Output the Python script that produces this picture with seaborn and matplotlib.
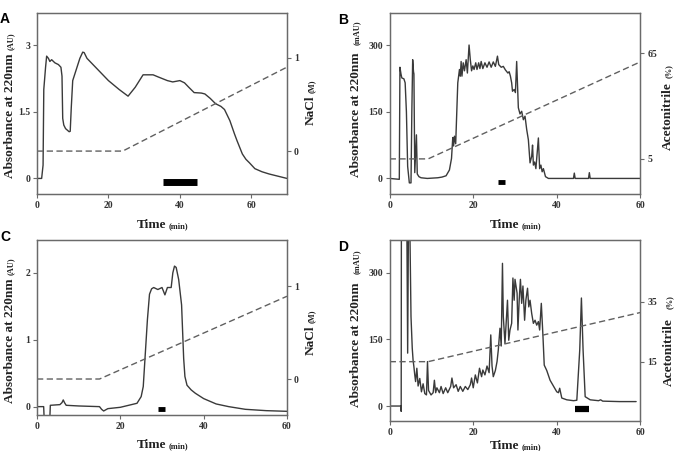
import matplotlib
matplotlib.use("Agg")
import matplotlib.pyplot as plt
import seaborn as sns
import pandas as pd

# ---------------- data ----------------
panel_letters = ["A", "B", "C", "D"]

A_time = [0, 1.3, 1.7, 1.9, 2.4, 2.7, 3.2, 3.6, 4.1, 5.0, 6.0, 6.7, 7.0, 7.2, 7.5, 8.0, 9.0, 9.3,
          9.6, 10.0, 10.8, 12.0, 12.8, 13.2, 14.0, 17.0, 20.0, 23.0, 25.5, 27.5, 29.7, 32.5, 34.0,
          36.5, 38.0, 40.0, 41.3, 42.5, 44.0, 46.0, 47.0, 48.5, 50.0, 51.5, 52.5, 54.0, 55.3, 56.0,
          57.5, 58.5, 59.5, 61.0, 63.0, 65.0, 67.5, 70.0]
A_abs = [0, 0, 0.3, 2.0, 2.5, 2.75, 2.7, 2.63, 2.67, 2.6, 2.56, 2.5, 2.3, 1.35, 1.2, 1.12, 1.05, 1.06,
         1.6, 2.2, 2.4, 2.7, 2.84, 2.83, 2.7, 2.45, 2.2, 2.0, 1.85, 2.05, 2.33, 2.33, 2.28,
         2.2, 2.17, 2.2, 2.15, 2.05, 1.93, 1.92, 1.9, 1.8, 1.68, 1.62, 1.55, 1.3, 1.0, 0.85,
         0.55, 0.43, 0.35, 0.22, 0.15, 0.1, 0.05, 0.0]
A_grad_time = [0, 24, 70]
A_grad = [0, 0, 0.9]
A_bar_time = [35.2, 44.7]
A_bar_y = [-0.07, -0.07]

B_time = [0, 2.3, 2.45, 2.7, 2.9, 3.4, 3.7, 4.0, 4.3, 4.7, 5.1, 5.3, 5.5, 5.7, 5.8, 6.0, 6.4, 6.6,
          7.0, 7.5, 9.0, 11.5, 12.5, 13.5, 14.3, 14.8, 15.1, 15.3, 15.5, 15.8, 16.3, 16.7, 16.9,
          17.1, 17.3, 17.6, 17.9, 18.3, 18.6, 19.0, 19.3, 19.6, 19.9, 20.2, 20.6, 20.9, 21.3,
          21.6, 21.9, 22.3, 22.8, 23.3, 23.8, 24.3, 24.8, 25.3, 25.8, 26.1, 26.7, 27.2, 27.7,
          28.3, 28.6, 28.9, 29.2, 29.4, 29.8, 30.1, 30.4, 30.8, 31.2, 31.6, 32.0, 32.4, 32.8,
          33.2, 33.6, 34.0, 34.2, 34.4, 34.7, 35.0, 35.6, 35.9, 36.2, 36.5, 36.8, 37.3, 38.0,
          44.0, 44.2, 44.4, 47.6, 47.8, 48.0, 60.0]
B_abs = [0, -2, 250, 235, 226, 224, 215, 150, 27, -10, -10, 150, 267, 240, 235, 13, 98, 10,
         4, 1.5, 0, 1.5, 3, 6, 19, 45, 92, 73, 95, 78, 215, 245, 230,
         263, 230, 260, 242, 267, 237, 300, 267, 242, 253, 245, 260, 245, 260,
         247, 263, 247, 260, 250, 262, 250, 262, 252, 275, 256, 250, 252, 244,
         237, 240, 230, 215, 196, 200, 193, 263, 159, 145, 151, 132, 140, 110,
         87, 35, 50, 75, 30, 37, 22, 91, 22, 30, 15, 22, 4, 0,
         0, 12, 0, 0, 13, 0, 0]
B_grad_time = [0, 9.2, 60]
B_grad = [5, 5, 60]
B_bar_time = [26.0, 27.6]
B_bar_y = [-7, -7]

C_time = [0, 1.6, 1.8, 3.0, 3.2, 5.5, 6.0, 6.3, 6.6, 7.0, 10.0, 15.0, 15.5, 16.0, 17.0, 20.0, 22.0,
          24.0, 25.0, 25.5, 26.0, 26.5, 27.0, 27.5, 28.0, 29.0, 30.0, 30.7, 31.3, 32.2, 32.6,
          33.0, 33.4, 34.0, 34.7, 35.2, 35.5, 36.0, 37.0, 38.0, 40.0, 43.0, 46.0, 50.0, 55.0, 60.0]
C_abs = [0, 0, -0.3, -0.3, 0.02, 0.03, 0.06, 0.1, 0.06, 0.02, 0.01, 0.0, -0.04, -0.065, -0.03, -0.01, 0.02,
         0.05, 0.15, 0.3, 0.8, 1.3, 1.68, 1.76, 1.78, 1.75, 1.78, 1.67, 1.78, 1.78, 2.0,
         2.1, 2.08, 1.9, 1.52, 0.72, 0.45, 0.32, 0.25, 0.2, 0.12, 0.04, 0.0, -0.04, -0.06, -0.07]
C_grad_time = [0, 15, 60]
C_grad = [0, 0, 0.89]
C_bar_time = [29.1, 30.7]
C_bar_y = [-0.03, -0.03]

D_time = [0, 2.7, 2.75, 2.8, 3.0, 4.1, 4.3, 4.5, 4.8, 5.1, 5.4, 5.6, 5.8, 6.0, 6.2, 6.5, 6.8, 7.2,
          7.6, 8.0, 8.4, 8.8, 9.05, 9.3, 9.9, 10.4, 10.7, 11.0, 11.3, 11.9, 12.3, 12.8, 13.4,
          13.9, 14.6, 14.9, 15.3, 15.9, 16.4, 16.9, 17.5, 18.1, 18.7, 19.3, 19.6, 20.0, 20.5,
          21.0, 21.5, 22.0, 22.3, 22.8, 23.3, 23.8, 24.2, 24.5, 24.8, 25.3, 25.7, 26.0, 26.4,
          26.7, 27.0, 27.2, 27.6, 28.2, 28.5, 28.8, 29.2, 29.5, 29.8, 30.0, 30.5, 30.7, 31.0,
          31.3, 31.6, 31.9, 32.3, 32.6, 33.0, 33.3, 33.6, 34.0, 34.4, 34.8, 35.2, 35.6, 35.9,
          36.3, 36.7, 37.0, 37.6, 38.4, 39.2, 40.0, 40.4, 40.7, 41.2, 42.4, 44.0, 44.8, 45.5,
          45.9, 46.3, 46.8, 48.0, 50.0, 50.5, 51.0, 55.0, 59.0]
D_abs = [0, 0, -12, 420, 420, 420, 119, 420, 420, 201, 130, 103, 88, 70, 55, 85, 45, 62,
         32, 50, 28, 25, 100, 35, 25, 30, 58, 30, 41, 30, 44, 28, 41,
         30, 44, 63, 41, 48, 33, 44, 33, 44, 37, 48, 63, 41, 70,
         52, 85, 66, 81, 70, 90, 75, 160, 90, 66, 80, 100, 126, 175,
         135, 321, 201, 141, 238, 148, 171, 186, 288, 238, 285, 254, 171, 238,
         285, 231, 270, 193, 238, 265, 223, 238, 208, 186, 193, 182, 190, 171,
         231, 156, 92, 80, 58, 45, 32, 30, 40, 18, 14, 12, 13, 126,
         243, 126, 21, 14, 12, 14, 11, 10, 10]
D_grad_time = [0, 9.2, 60]
D_grad = [15, 15, 31.4]
D_bar_time = [44.4, 47.8]
D_bar_y = [-7.5, -7.5]

left_units = ["(AU)", "(mAU)", "(AU)", "(mAU)"]
right_names = ["NaCl", "Acetonitrile", "NaCl", "Acetonitrile"]
right_units = ["(M)", "(%)", "(M)", "(%)"]

# ---------------- style ----------------
sns.set_style("ticks")
plt.rcParams["font.family"] = ["Liberation Serif", "DejaVu Serif"]
plt.rcParams["font.weight"] = "bold"

W, H = 676, 451
fig = plt.figure(figsize=(W / 100, H / 100), dpi=100)

def box(l, t, r, b):
    return [l / W, 1 - b / H, (r - l) / W, (b - t) / H]

def fx(x):
    return x / W

def fy(y):
    return 1 - y / H

LINE = "#3a3a3a"
DASH = "#606060"
SPINE = "#6a6a6a"

panels = [
    dict(rect=box(37, 13, 287, 194), t=A_time, y=A_abs, gt=A_grad_time, g=A_grad, bt=A_bar_time, by=A_bar_y,
         xlim=(0, 70), ylim=(-0.35, 3.72), yt=[0, 1.5, 3], ytl=["0", "1.5", "3"],
         rlim=(-0.46, 1.48), rt=[0, 1], rtl=["0", "1"], bw=5),
    dict(rect=box(389.7, 13, 640.3, 194), t=B_time, y=B_abs, gt=B_grad_time, g=B_grad, bt=B_bar_time, by=B_bar_y,
         xlim=(0, 60), ylim=(-35, 372), yt=[0, 150, 300], ytl=["0", "150", "300"],
         rlim=(-14.9, 87.7), rt=[5, 65], rtl=["5", "65"], bw=3.5),
    dict(rect=box(37, 240, 287, 415), t=C_time, y=C_abs, gt=C_grad_time, g=C_grad, bt=C_bar_time, by=C_bar_y,
         xlim=(0, 60), ylim=(-0.125, 2.49), yt=[0, 1, 2], ytl=["0", "1", "2"],
         rlim=(-0.387, 1.495), rt=[0, 1], rtl=["0", "1"], bw=3.5),
    dict(rect=box(389.7, 240, 640.3, 420.7), t=D_time, y=D_abs, gt=D_grad_time, g=D_grad, bt=D_bar_time, by=D_bar_y,
         xlim=(0, 60), ylim=(-33, 373.5), yt=[0, 150, 300], ytl=["0", "150", "300"],
         rlim=(-4.7, 55.6), rt=[15, 35], rtl=["15", "35"], bw=4.5),
]

for p in panels:
    ax = fig.add_axes(p["rect"])
    df = pd.DataFrame({"time": p["t"], "abs": p["y"]})
    sns.lineplot(data=df, x="time", y="abs", ax=ax, color=LINE, linewidth=1.0,
                 estimator=None, sort=False)
    bar = pd.DataFrame({"time": p["bt"], "y": p["by"]})
    sns.lineplot(data=bar, x="time", y="y", ax=ax, color="black", linewidth=p["bw"],
                 estimator=None, sort=False, solid_capstyle="butt")
    ax.set_xlim(*p["xlim"])
    ax.set_ylim(*p["ylim"])
    ax.set_xticks([0, 20, 40, 60])
    ax.set_xticklabels(["0", "20", "40", "60"])
    ax.set_yticks(p["yt"])
    ax.set_yticklabels(p["ytl"])
    ax.set_xlabel("")
    ax.set_ylabel("")

    ax2 = ax.twinx()
    gdf = pd.DataFrame({"time": p["gt"], "g": p["g"]})
    sns.lineplot(data=gdf, x="time", y="g", ax=ax2, color=DASH, linewidth=1.0,
                 estimator=None, sort=False)
    ax2.lines[-1].set_dashes([4.5, 2.5])
    ax2.set_ylim(*p["rlim"])
    ax2.set_yticks(p["rt"])
    ax2.set_yticklabels(p["rtl"])
    ax2.set_ylabel("")
    ax2.set_xlim(*p["xlim"])

    for a in (ax, ax2):
        for s in a.spines.values():
            s.set_color(SPINE)
            s.set_linewidth(0.9)
        a.tick_params(direction="out", length=3, width=0.8, colors=SPINE,
                      labelcolor="#333333", labelsize=7, pad=2)

# ---------------- labels ----------------
main_fs = 9.6
unit_fs = 6.0
left_x = [10, 356, 10, 356]
left_main_y = [116, 115, 341, 345]
left_unit_y = [41, 33, 266, 262]
right_x = [311, 668, 311, 669]
right_main_y = [110, 116, 340, 352]
right_unit_y = [86, 71, 316, 302]
time_x = [137, 490, 137, 490]
time_base = [228, 228, 448, 449]
letter_xy = [(0, 12), (338, 13), (0, 230), (338, 240)]

for i in range(4):
    fig.text(fx(left_x[i]), fy(left_main_y[i]), "Absorbance at 220nm", rotation=90,
             ha="center", va="center", fontsize=main_fs, fontweight="bold", color="#222222")
    fig.text(fx(left_x[i] + 1), fy(left_unit_y[i]), left_units[i], rotation=90,
             ha="center", va="center", fontsize=unit_fs, fontweight="bold", color="#222222")
    fig.text(fx(right_x[i]), fy(right_main_y[i]), right_names[i], rotation=90,
             ha="center", va="center", fontsize=main_fs, fontweight="bold", color="#222222")
    fig.text(fx(right_x[i] + 1), fy(right_unit_y[i]), right_units[i], rotation=90,
             ha="center", va="center", fontsize=unit_fs, fontweight="bold", color="#222222")
    fig.text(fx(time_x[i]), fy(time_base[i]), "Time", ha="left", va="baseline",
             fontsize=main_fs, fontweight="bold", color="#222222")
    fig.text(fx(time_x[i] + 32), fy(time_base[i]), "(min)", ha="left", va="baseline",
             fontsize=unit_fs, fontweight="bold", color="#222222")
    lx, ly = letter_xy[i]
    fig.text(fx(lx), fy(ly), panel_letters[i], ha="left", va="top",
             fontsize=10, fontweight="bold", family=["Liberation Sans", "DejaVu Sans"],
             color="black")

fig.savefig("out.png", dpi=100)
